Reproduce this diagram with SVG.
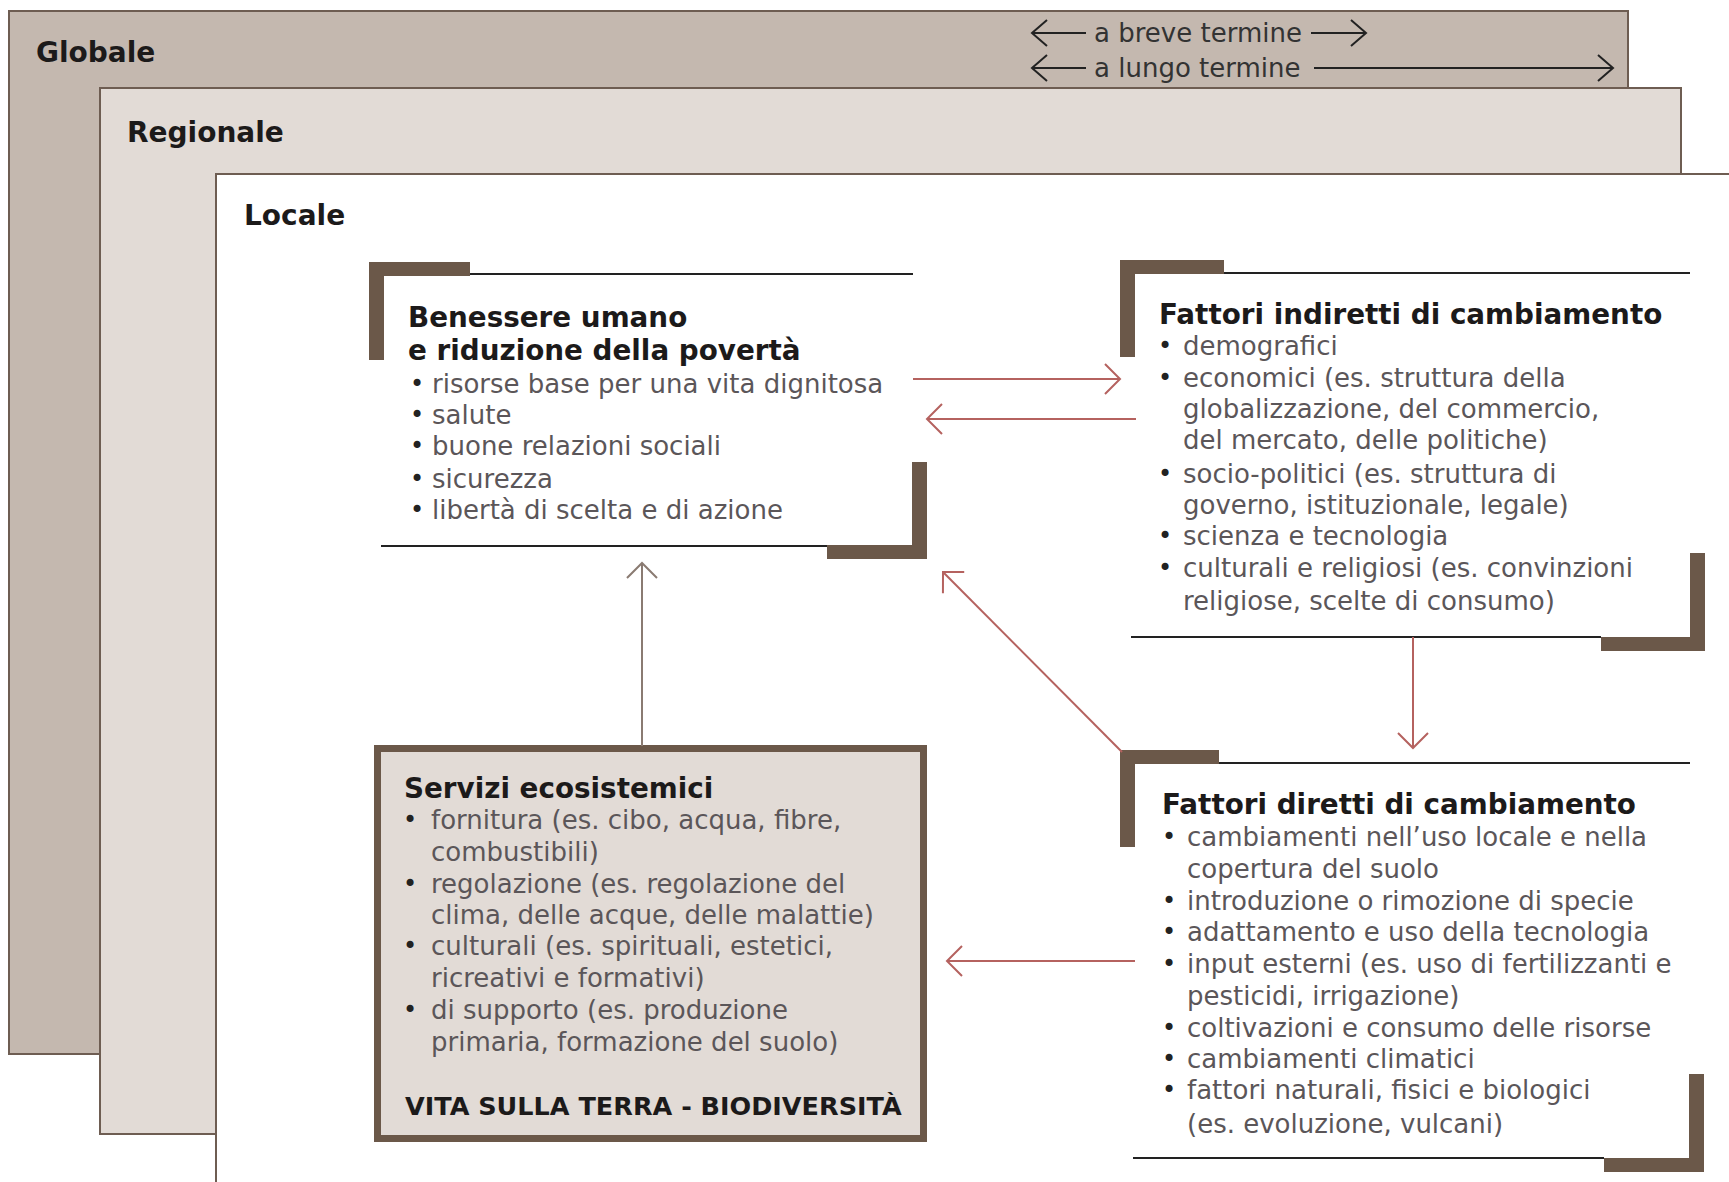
<svg xmlns="http://www.w3.org/2000/svg" width="1729" height="1182" viewBox="0 0 1729 1182">
<style>
.lvl{font-family:"DejaVu Sans",sans-serif;font-weight:bold;font-size:28px;fill:#1c1a1a}
.ttl{font-family:"DejaVu Sans",sans-serif;font-weight:bold;font-size:27.8px;fill:#1c1a1a}
.txt{font-family:"DejaVu Sans",sans-serif;font-size:26px;fill:#5b5659}
.bul{font-family:"DejaVu Sans",sans-serif;font-size:24px;fill:#222}
.tim{font-family:"DejaVu Sans",sans-serif;font-size:26px;fill:#333}
.brk{fill:#6b5849}
.thin{stroke:#222;stroke-width:2;fill:none}
.con{stroke:#b5625f;stroke-width:2;fill:none;marker-end:url(#chr)}
.cong{stroke:#8a7b72;stroke-width:2;fill:none;marker-end:url(#chg)}
.tl{stroke:#222;stroke-width:2;fill:none;marker-end:url(#chk)}
.frame{stroke:#6e5d52;stroke-width:2}
</style>
<defs>
<marker id="chr" markerUnits="userSpaceOnUse" viewBox="-25 -25 30 50" refX="0" refY="0" markerWidth="30" markerHeight="50" orient="auto" overflow="visible">
<path d="M-15,-15 L0,0 L-15,15" fill="none" stroke="#b5625f" stroke-width="2"/>
</marker>
<marker id="chg" markerUnits="userSpaceOnUse" viewBox="-25 -25 30 50" refX="0" refY="0" markerWidth="30" markerHeight="50" orient="auto" overflow="visible">
<path d="M-15,-15 L0,0 L-15,15" fill="none" stroke="#8a7b72" stroke-width="2"/>
</marker>
<marker id="chk" markerUnits="userSpaceOnUse" viewBox="-25 -25 30 50" refX="0" refY="0" markerWidth="30" markerHeight="50" orient="auto" overflow="visible">
<path d="M-15,-13 L0,0 L-15,13" fill="none" stroke="#222" stroke-width="2"/>
</marker>
</defs>
<rect width="1729" height="1182" fill="#ffffff"/>

<g id="globale">
<rect class="frame" x="9" y="11" width="1619" height="1043" fill="#c4b8af"/>
<text class="lvl" x="36" y="62">Globale</text>
</g>
<g id="regionale">
<rect class="frame" x="100" y="88" width="1581" height="1046" fill="#e2dbd6"/>
<text class="lvl" x="127" y="142">Regionale</text>
</g>
<g id="locale">
<rect class="frame" x="216" y="174" width="1600" height="1100" fill="#ffffff"/>
<text class="lvl" x="244" y="225">Locale</text>
</g>

<g id="scala-temporale">
<line class="tl" x1="1086" y1="33" x2="1032" y2="33"/>
<text class="tim" x="1094" y="42">a breve termine</text>
<line class="tl" x1="1311" y1="33" x2="1366" y2="33"/>
<line class="tl" x1="1086" y1="68" x2="1032" y2="68"/>
<text class="tim" x="1094" y="77">a lungo termine</text>
<line class="tl" x1="1314" y1="68" x2="1613" y2="68"/>
</g>

<g id="benessere">
<path class="brk" d="M369,262 H470 V276 H384 V360 H369 Z"/>
<line class="thin" x1="470" y1="274" x2="913" y2="274"/>
<path class="brk" d="M927,462 V559 H827 V545 H912 V462 Z"/>
<line class="thin" x1="381" y1="546" x2="827" y2="546"/>
<text class="ttl" x="408" y="327">Benessere umano</text>
<text class="ttl" x="408" y="360">e riduzione della povertà</text>
<text class="bul" x="410" y="392">•</text><text class="txt" x="432" y="393">risorse base per una vita dignitosa</text>
<text class="bul" x="410" y="423">•</text><text class="txt" x="432" y="424">salute</text>
<text class="bul" x="410" y="454">•</text><text class="txt" x="432" y="455">buone relazioni sociali</text>
<text class="bul" x="410" y="487">•</text><text class="txt" x="432" y="488">sicurezza</text>
<text class="bul" x="410" y="518">•</text><text class="txt" x="432" y="519">libertà di scelta e di azione</text>
</g>

<g id="fattori-indiretti">
<path class="brk" d="M1120,260 H1224 V274 H1135 V357 H1120 Z"/>
<line class="thin" x1="1224" y1="273" x2="1690" y2="273"/>
<path class="brk" d="M1705,553 V651 H1601 V637 H1690 V553 Z"/>
<line class="thin" x1="1131" y1="637" x2="1601" y2="637"/>
<text class="ttl" x="1159" y="324">Fattori indiretti di cambiamento</text>
<text class="bul" x="1158" y="354">•</text><text class="txt" x="1183" y="355">demografici</text>
<text class="bul" x="1158" y="386">•</text><text class="txt" x="1183" y="387">economici (es. struttura della</text>
<text class="txt" x="1183" y="418">globalizzazione, del commercio,</text>
<text class="txt" x="1183" y="449">del mercato, delle politiche)</text>
<text class="bul" x="1158" y="482">•</text><text class="txt" x="1183" y="483">socio-politici (es. struttura di</text>
<text class="txt" x="1183" y="514">governo, istituzionale, legale)</text>
<text class="bul" x="1158" y="544">•</text><text class="txt" x="1183" y="545">scienza e tecnologia</text>
<text class="bul" x="1158" y="576">•</text><text class="txt" x="1183" y="577">culturali e religiosi (es. convinzioni</text>
<text class="txt" x="1183" y="610">religiose, scelte di consumo)</text>
</g>

<g id="fattori-diretti">
<path class="brk" d="M1120,750 H1219 V764 H1135 V847 H1120 Z"/>
<line class="thin" x1="1219" y1="763" x2="1690" y2="763"/>
<path class="brk" d="M1704,1074 V1172 H1604 V1158 H1689 V1074 Z"/>
<line class="thin" x1="1133" y1="1158" x2="1604" y2="1158"/>
<text class="ttl" x="1162" y="814">Fattori diretti di cambiamento</text>
<text class="bul" x="1162" y="845">•</text><text class="txt" x="1187" y="846">cambiamenti nell’uso locale e nella</text>
<text class="txt" x="1187" y="878">copertura del suolo</text>
<text class="bul" x="1162" y="909">•</text><text class="txt" x="1187" y="910">introduzione o rimozione di specie</text>
<text class="bul" x="1162" y="940">•</text><text class="txt" x="1187" y="941">adattamento e uso della tecnologia</text>
<text class="bul" x="1162" y="972">•</text><text class="txt" x="1187" y="973">input esterni (es. uso di fertilizzanti e</text>
<text class="txt" x="1187" y="1005">pesticidi, irrigazione)</text>
<text class="bul" x="1162" y="1036">•</text><text class="txt" x="1187" y="1037">coltivazioni e consumo delle risorse</text>
<text class="bul" x="1162" y="1067">•</text><text class="txt" x="1187" y="1068">cambiamenti climatici</text>
<text class="bul" x="1162" y="1098">•</text><text class="txt" x="1187" y="1099">fattori naturali, fisici e biologici</text>
<text class="txt" x="1187" y="1133">(es. evoluzione, vulcani)</text>
</g>

<g id="servizi">
<rect x="377.5" y="748.5" width="546" height="390" fill="#e2dbd6" stroke="#6b5849" stroke-width="7"/>
<text class="ttl" x="404" y="798">Servizi ecosistemici</text>
<text class="bul" x="403" y="828">•</text><text class="txt" x="431" y="829">fornitura (es. cibo, acqua, fibre,</text>
<text class="txt" x="431" y="861">combustibili)</text>
<text class="bul" x="403" y="892">•</text><text class="txt" x="431" y="893">regolazione (es. regolazione del</text>
<text class="txt" x="431" y="924">clima, delle acque, delle malattie)</text>
<text class="bul" x="403" y="954">•</text><text class="txt" x="431" y="955">culturali (es. spirituali, estetici,</text>
<text class="txt" x="431" y="987">ricreativi e formativi)</text>
<text class="bul" x="403" y="1018">•</text><text class="txt" x="431" y="1019">di supporto (es. produzione</text>
<text class="txt" x="431" y="1051">primaria, formazione del suolo)</text>
<text class="ttl" x="405" y="1115" style="font-size:25.5px">VITA SULLA TERRA - BIODIVERSITÀ</text>
</g>

<g id="connectors">
<line class="con" x1="913" y1="379" x2="1120" y2="379"/>
<line class="con" x1="1136" y1="419" x2="927" y2="419"/>
<line class="con" x1="1122" y1="752" x2="943" y2="572"/>
<line class="con" x1="1413" y1="637" x2="1413" y2="748"/>
<line class="con" x1="1135" y1="961" x2="947" y2="961"/>
<line class="cong" x1="642" y1="746" x2="642" y2="563"/>
</g>
</svg>
